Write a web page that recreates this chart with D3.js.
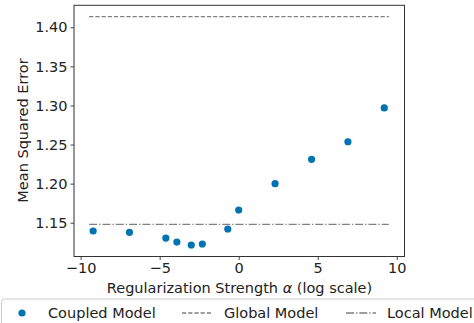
<!DOCTYPE html>
<html><head><meta charset="utf-8">
<script src="https://cdn.jsdelivr.net/npm/d3@7"></script>
<style>body{margin:0;background:#fff}svg{display:block;font-family:"DejaVu Sans",sans-serif}</style>
</head><body><svg id="c" width="474" height="323"></svg>
<script>
const logAlpha = [-9.21, -6.91, -4.61, -3.91, -3.00, -2.30, -0.69, 0.00, 2.30, 4.61, 6.91, 9.21];
const coupledMSE = [1.1394, 1.1377, 1.1304, 1.1253, 1.1215, 1.1228, 1.1420, 1.1662, 1.1999, 1.2311, 1.2536, 1.2968];
const globalMSE = 1.4136;
const localMSE = 1.1478;
const xTicks = [-10, -5, 0, 5, 10];
const yTicks = [1.15, 1.20, 1.25, 1.30, 1.35, 1.40];
const legendLabels = ["Coupled Model", "Global Model", "Local Model"];

const svg = d3.select("#c");
const L = 74, R = 404.5, T = 5.3, B = 256.5;
const x = d3.scaleLinear().domain([-10.42, 10.49]).range([L, R]);
const y = d3.scaleLinear().domain([1.1068, 1.4281]).range([B, T]);
const blue = "#0173b2", gray = "#808080";
const fs = 14.5;

// lines
const xmin = -9.46, xmax = 9.5;
svg.append("line").attr("x1", x(xmin)).attr("x2", x(xmax)).attr("y1", y(globalMSE)).attr("y2", y(globalMSE))
  .attr("stroke", gray).attr("stroke-width", 1.3).attr("stroke-dasharray", "4.2,2");
svg.append("line").attr("x1", x(xmin)).attr("x2", x(xmax)).attr("y1", y(localMSE)).attr("y2", y(localMSE))
  .attr("stroke", gray).attr("stroke-width", 1.3).attr("stroke-dasharray", "8,2,1.3,2");

// points
svg.selectAll("circle.p").data(logAlpha).join("circle").attr("class", "p")
  .attr("cx", d => x(d)).attr("cy", (d, i) => y(coupledMSE[i])).attr("r", 3.6).attr("fill", blue);

// axes
const xa = svg.append("g").attr("transform", `translate(0,${B})`)
  .call(d3.axisBottom(x).tickValues(xTicks).tickSize(3.5).tickPadding(3).tickFormat(d => d < 0 ? "\u2212" + Math.abs(d) : d));
const ya = svg.append("g").attr("transform", `translate(${L},0)`)
  .call(d3.axisLeft(y).tickValues(yTicks).tickSize(3.5).tickPadding(3).tickFormat(d3.format(".2f")));
[xa, ya].forEach(a => {
  a.select(".domain").remove();
  a.selectAll("line").attr("stroke", "#333").attr("stroke-width", 0.9);
  a.selectAll("text").attr("font-size", fs).attr("fill", "#222").attr("font-family", "DejaVu Sans");
});
svg.append("rect").attr("x", L).attr("y", T).attr("width", R - L).attr("height", B - T)
  .attr("fill", "none").attr("stroke", "#333").attr("stroke-width", 1);

// axis labels
svg.append("text").attr("x", 239.5).attr("y", 292.5).attr("text-anchor", "middle")
  .attr("font-size", fs).attr("fill", "#222")
  .html('Regularization Strength <tspan font-style="italic">\u03b1</tspan> (log scale)');
svg.append("text").attr("transform", `translate(28,130.5) rotate(-90)`)
  .attr("text-anchor", "middle").attr("font-size", fs).attr("fill", "#222").text("Mean Squared Error");

// legend
const lg = svg.append("g");
lg.append("rect").attr("x", 1.5).attr("y", 299).attr("width", 480).attr("height", 40).attr("rx", 3)
  .attr("fill", "#fff").attr("stroke", "#ccc").attr("stroke-width", 1);
const ly = 313;
lg.append("circle").attr("cx", 22).attr("cy", ly).attr("r", 3.6).attr("fill", blue);
lg.append("line").attr("x1", 182).attr("x2", 213).attr("y1", ly).attr("y2", ly)
  .attr("stroke", gray).attr("stroke-width", 1.3).attr("stroke-dasharray", "4.2,2");
lg.append("line").attr("x1", 346).attr("x2", 376).attr("y1", ly).attr("y2", ly)
  .attr("stroke", gray).attr("stroke-width", 1.3).attr("stroke-dasharray", "8,2,1.3,2");
const lx = [48, 224, 387];
legendLabels.forEach((t, i) => {
  lg.append("text").attr("x", lx[i]).attr("y", ly + 5).attr("font-size", fs).attr("fill", "#222").text(t);
});
</script></body></html>
